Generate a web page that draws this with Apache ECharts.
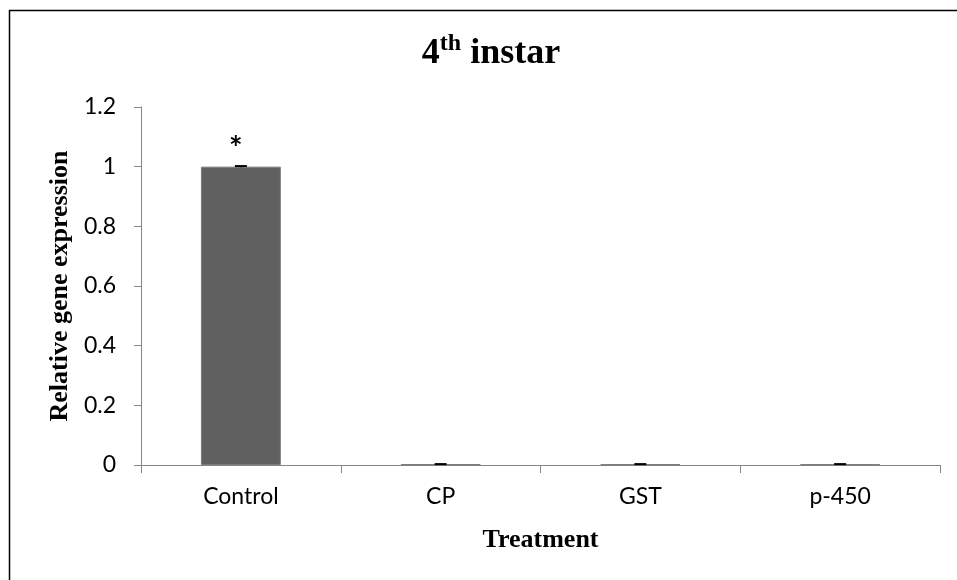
<!DOCTYPE html>
<html>
<head>
<meta charset="utf-8">
<script src="https://cdn.jsdelivr.net/npm/echarts@6/dist/echarts.min.js"></script>
<style>
  html, body { margin: 0; padding: 0; background: #fff; }
  #chart { width: 957px; height: 580px; }
</style>
</head>
<body>
<div id="chart"></div>
<script>
// Relative expression per treatment, 4th instar larvae
const categories = ['Control', 'CP', 'GST', 'p-450'];
const expression = [1, 0.002, 0.002, 0.002];
const stdError = [0.002, 0.001, 0.001, 0.001];
const significance = ['*', '', '', ''];
const yTicks = [0, 0.2, 0.4, 0.6, 0.8, 1, 1.2];

const chart = echarts.init(document.getElementById('chart'));

const serif = '"Liberation Serif", "Times New Roman", serif';
const sans = 'Lato, "Open Sans", sans-serif';

chart.setOption({
  animation: false,
  backgroundColor: '#ffffff',
  title: {
    text: '{b|4}{sup|th}{b| instar}',
    left: 486,
    textAlign: 'center',
    top: 27,
    textStyle: {
      rich: {
        b: { fontFamily: serif, fontWeight: 'bold', fontSize: 36, color: '#000', verticalAlign: 'bottom', lineHeight: 40 },
        sup: { fontFamily: serif, fontWeight: 'bold', fontSize: 24, color: '#000', verticalAlign: 'top', lineHeight: 40, padding: [0, 0, 14, 0] }
      }
    }
  },
  graphic: [
    // figure frame (top and left edges)
    { type: 'polyline', shape: { points: [[9.5, 580], [9.5, 10.5], [957, 10.5]] },
      style: { stroke: '#000', lineWidth: 1.5, fill: null } }
  ],
  grid: { left: 141, right: 17, top: 107, bottom: 115 },
  xAxis: {
    type: 'category',
    data: categories,
    axisLine: { lineStyle: { color: '#868686', width: 1 } },
    axisTick: { show: true, length: 8, lineStyle: { color: '#868686' } },
    axisLabel: { color: '#000', fontFamily: sans, fontSize: 23, margin: 20 },
    name: 'Treatment',
    nameLocation: 'middle',
    nameGap: 62,
    nameTextStyle: { fontFamily: serif, fontWeight: 'bold', fontSize: 26, color: '#000' }
  },
  yAxis: {
    type: 'value',
    min: 0,
    max: 1.2,
    interval: 0.2,
    axisLine: { show: true, lineStyle: { color: '#868686', width: 1 } },
    axisTick: { show: true, length: 7, lineStyle: { color: '#868686' } },
    splitLine: { show: false },
    axisLabel: {
      color: '#000', fontFamily: sans, fontSize: 23, margin: 25,
      formatter: v => {
        const t = yTicks.find(x => Math.abs(x - v) < 1e-9);
        return t === undefined ? '' : String(t);
      }
    },
    name: 'Relative gene expression',
    nameLocation: 'middle',
    nameGap: 68,
    nameTextStyle: { fontFamily: serif, fontWeight: 'bold', fontSize: 26, color: '#000' }
  },
  series: [
    {
      type: 'bar',
      data: expression,
      barWidth: '40%',
      itemStyle: { color: '#606060', borderColor: '#7a7a7a', borderWidth: 1 },
      label: {
        show: true,
        position: 'top',
        distance: 1,
        offset: [-5, 0],
        formatter: p => significance[p.dataIndex],
        fontFamily: sans,
        fontSize: 32,
        fontWeight: 'bold',
        color: '#000'
      }
    },
    {
      type: 'custom',
      data: expression.map((v, i) => [i, v, stdError[i]]),
      z: 5,
      renderItem: (params, api) => {
        const x = api.value(0);
        const v = api.value(1);
        const e = api.value(2);
        const hi = api.coord([x, v + e]);
        const lo = api.coord([x, v - e]);
        const half = 6;
        return {
          type: 'group',
          children: [
            { type: 'line', shape: { x1: hi[0], y1: hi[1], x2: lo[0], y2: lo[1] },
              style: { stroke: '#000', lineWidth: 1.5 } },
            { type: 'line', shape: { x1: hi[0] - half, y1: hi[1], x2: hi[0] + half, y2: hi[1] },
              style: { stroke: '#000', lineWidth: 2 } }
          ]
        };
      }
    }
  ]
});
</script>
</body>
</html>
